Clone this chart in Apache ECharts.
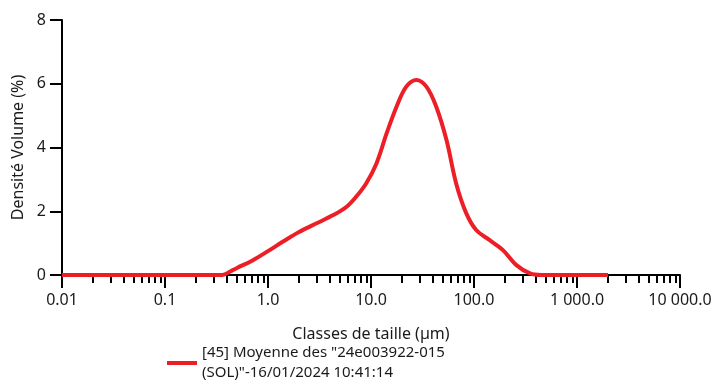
<!DOCTYPE html>
<html>
<head>
<meta charset="utf-8">
<script src="https://cdn.jsdelivr.net/npm/echarts@6/dist/echarts.min.js"></script>
<style>
  html, body { margin: 0; padding: 0; background: #fff; }
  #chart { width: 714px; height: 381px; }
</style>
</head>
<body>
<div id="chart"></div>
<script>
// particle size classes (µm) and volume density (%)
const sizes = [0.01, 0.1, 0.3, 0.36, 0.43, 0.5, 0.7, 1.0, 1.4, 2.0, 3.0, 4.3, 5.8, 7.2, 9.0, 11.3, 14.2, 17.7, 22, 27.6, 34.5, 43, 54, 67, 84, 105, 141, 191, 258, 350, 450, 2000];
const density = [0, 0, 0, 0, 0.11, 0.22, 0.45, 0.75, 1.05, 1.35, 1.63, 1.88, 2.14, 2.46, 2.88, 3.5, 4.45, 5.28, 5.91, 6.12, 5.91, 5.28, 4.24, 2.88, 1.94, 1.41, 1.1, 0.78, 0.31, 0.05, 0, 0];

const majorTicks = [0.01, 0.1, 1, 10, 100, 1000, 10000];
const majorLabels = ["0.01", "0.1", "1.0", "10.0", "100.0", "1 000.0", "10 000.0"];
const minorTicks = [];
majorTicks.slice(0, -1).forEach((d) => {
  for (let k = 2; k <= 9; k++) minorTicks.push(+(d * k).toPrecision(3));
});

const seriesName = '[45] Moyenne des "24e003922-015\n(SOL)"-16/01/2024 10:41:14';
const font = "'Noto Sans', 'Open Sans', sans-serif";
const ink = "#1a1a1a";

const chart = echarts.init(document.getElementById("chart"), null, { renderer: "canvas" });

chart.setOption({
  animation: false,
  textStyle: { fontFamily: font, color: ink },
  grid: { left: 62, right: 34, top: 20, bottom: 106, containLabel: false, outerBoundsMode: "none" },
  xAxis: [
    {
      type: "log",
      min: 0.01,
      max: 10000,
      position: "bottom",
      name: "Classes de taille (µm)",
      nameLocation: "middle",
      nameGap: 51,
      nameTextStyle: { fontFamily: font, fontSize: 16, color: ink },
      axisLine: { show: true, lineStyle: { color: "#000", width: 2 } },
      axisTick: { show: true, customValues: majorTicks, length: 13, lineStyle: { color: "#000", width: 2 } },
      axisLabel: {
        customValues: majorTicks,
        margin: 17,
        fontFamily: font,
        fontSize: 16,
        color: ink,
        formatter: (v) => {
          const i = majorTicks.findIndex((m) => Math.abs(m - v) / m < 1e-6);
          return i >= 0 ? majorLabels[i] : "";
        }
      },
      splitLine: { show: false }
    },
    {
      type: "log",
      min: 0.01,
      max: 10000,
      position: "bottom",
      axisLine: { show: false },
      axisTick: { show: true, customValues: minorTicks, length: 8, lineStyle: { color: "#000", width: 2 } },
      axisLabel: { show: false },
      splitLine: { show: false }
    }
  ],
  yAxis: {
    type: "value",
    min: 0,
    max: 8,
    interval: 2,
    name: "Densité Volume (%)",
    nameLocation: "middle",
    nameGap: 35,
    nameTextStyle: { fontFamily: font, fontSize: 16, color: ink },
    axisLine: { show: true, lineStyle: { color: "#000", width: 2 } },
    axisTick: { show: true, length: 12, lineStyle: { color: "#000", width: 2 } },
    axisLabel: { margin: 16, fontFamily: font, fontSize: 16, color: ink },
    splitLine: { show: false }
  },
  legend: {
    left: 162,
    top: 338,
    icon: "rect",
    itemWidth: 30,
    itemHeight: 4,
    itemGap: 6,
    textStyle: { fontFamily: font, fontSize: 15, color: ink, lineHeight: 20 },
    data: [seriesName]
  },
  series: [
    {
      name: seriesName,
      type: "line",
      xAxisIndex: 0,
      data: sizes.map((s, i) => [s, density[i]]),
      smooth: 0.35,
      symbol: "none",
      lineStyle: { color: "#ec1f27", width: 4 },
      itemStyle: { color: "#ec1f27" }
    }
  ]
});
</script>
</body>
</html>
